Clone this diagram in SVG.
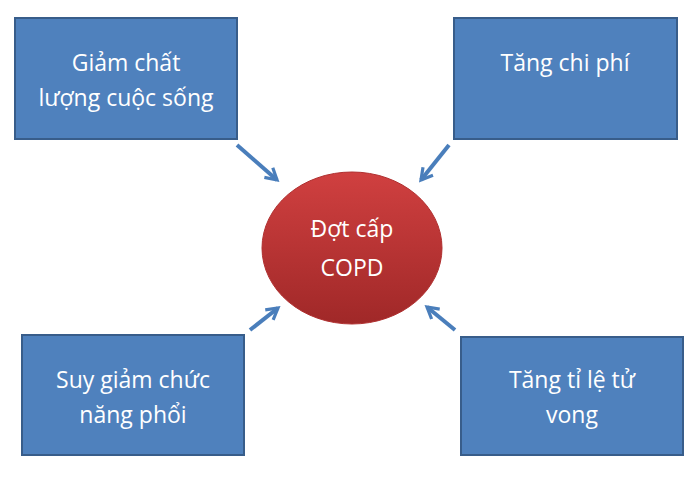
<svg xmlns="http://www.w3.org/2000/svg" width="696" height="481" viewBox="0 0 696 481">
<style>
.box{fill:#4f81bd;stroke:#385d8a;stroke-width:2}
.t{font-family:"Open Sans","Liberation Sans",sans-serif;font-size:23px;fill:#fff;text-anchor:middle}
.c{stroke:#4a7ebb;stroke-width:4;fill:none}
</style>
<defs>
<marker id="a" viewBox="0 0 10 10" refX="8" refY="5" markerWidth="4" markerHeight="4" orient="auto" markerUnits="strokeWidth"><path d="M1,1 L8,5 L1,9" fill="none" stroke="#4a7ebb" stroke-width="2"/></marker>
<linearGradient id="g" x1="0" y1="0" x2="0" y2="1"><stop offset="0" stop-color="#d04040"/><stop offset="1" stop-color="#a02828"/></linearGradient>
</defs>
<rect width="696" height="481" fill="#fff"/>
<g id="n1"><rect class="box" x="15" y="18" width="222" height="121"/><text class="t" x="126" y="71">Giảm chất</text><text class="t" x="126" y="106">lượng cuộc sống</text></g>
<g id="n2"><rect class="box" x="454" y="18" width="223" height="121"/><text class="t" x="565" y="71">Tăng chi phí</text></g>
<g id="n3"><rect class="box" x="22" y="335" width="222" height="120"/><text class="t" x="133" y="388">Suy giảm chức</text><text class="t" x="133" y="423">năng phổi</text></g>
<g id="n4"><rect class="box" x="461" y="337" width="222" height="118"/><text class="t" x="572" y="388">Tăng tỉ lệ tử</text><text class="t" x="572" y="423">vong</text></g>
<g id="center"><ellipse cx="352" cy="248" rx="90" ry="76" fill="url(#g)" stroke="#b03030" stroke-width="1"/><text class="t" x="352" y="237" font-size="25">Đợt cấp</text><text class="t" x="352" y="276" font-size="25">COPD</text></g>
<g id="connectors">
<line class="c" x1="237" y1="145" x2="277" y2="180" marker-end="url(#a)"/>
<line class="c" x1="449" y1="145" x2="421" y2="180" marker-end="url(#a)"/>
<line class="c" x1="250" y1="330" x2="278" y2="308" marker-end="url(#a)"/>
<line class="c" x1="455" y1="330" x2="427" y2="307" marker-end="url(#a)"/>
</g>
</svg>
